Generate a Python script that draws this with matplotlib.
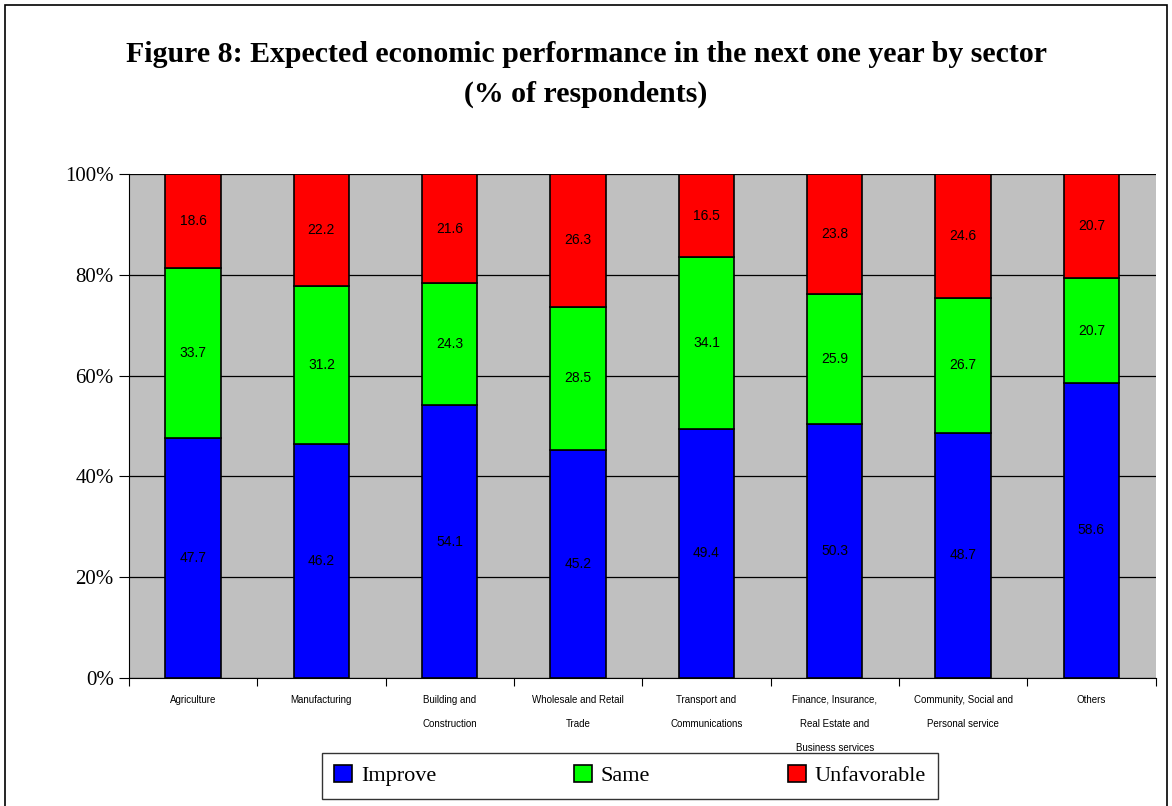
import matplotlib.pyplot as plt
import numpy as np
from matplotlib.patches import Rectangle

sectors = ["Agriculture", "Manufacturing", "Building and\nConstruction",
           "Wholesale and Retail\nTrade", "Transport and\nCommunications",
           "Finance, Insurance,\nReal Estate and\nBusiness services",
           "Community, Social and\nPersonal service", "Others"]
improve = [47.7, 46.2, 54.1, 45.2, 49.4, 50.3, 48.7, 58.6]
same = [33.7, 31.2, 24.3, 28.5, 34.1, 25.9, 26.7, 20.7]
unfavorable = [18.6, 22.2, 21.6, 26.3, 16.5, 23.8, 24.6, 20.7]

series = [("Improve", improve, "#0000FF"),
          ("Same", same, "#00FF00"),
          ("Unfavorable", unfavorable, "#FF0000")]

fig = plt.figure(figsize=(11.72, 8.06), dpi=100)
fig.patches.append(Rectangle((0.004, -0.01), 0.992, 1.004, transform=fig.transFigure,
                             fill=False, edgecolor="black", linewidth=1.2))

ax = fig.add_axes([0.110, 0.159, 0.876, 0.625])
ax.set_facecolor("#C0C0C0")

# 100% stacked: each column scaled to its own total
x = np.arange(len(sectors))
totals = np.array(improve) + np.array(same) + np.array(unfavorable)
bottom = np.zeros(len(sectors))
for name, vals, color in series:
    vals = np.array(vals)
    share = vals / totals * 100
    ax.bar(x, share, 0.43, bottom=bottom, color=color, edgecolor="black",
           linewidth=1.2, label=name, zorder=3)
    for xi, b, s, v in zip(x, bottom, share, vals):
        ax.text(xi, b + s / 2, f"{v:.1f}", ha="center", va="center",
                fontsize=10, family="Liberation Sans", zorder=4)
    bottom += share

ax.set_xlim(-0.5, len(sectors) - 0.5)
ax.set_ylim(0, 100)
ax.set_yticks(np.arange(0, 101, 20))
ax.set_yticklabels([f"{v}%" for v in range(0, 101, 20)],
                   family="Liberation Serif", fontsize=15)
ax.yaxis.grid(True, color="black", linewidth=0.9, zorder=1)

# category labels sit between boundary ticks
ax.set_xticks(np.arange(len(sectors) + 1) - 0.5)
ax.set_xticklabels([])
ax.set_xticks(x, minor=True)
ax.set_xticklabels(sectors, minor=True, fontsize=7, family="Liberation Sans",
                   linespacing=2.8, va="top")
ax.tick_params(axis="x", which="minor", length=0, pad=12)
ax.tick_params(axis="x", which="major", length=6, direction="out")
ax.tick_params(axis="y", length=7, direction="out", pad=4)

for side in ["top", "right"]:
    ax.spines[side].set_visible(False)
ax.spines["left"].set_color("black")
ax.spines["bottom"].set_color("black")

fig.text(0.5, 0.907, "Figure 8: Expected economic performance in the next one year by sector\n(% of respondents)",
         ha="center", va="center", fontsize=21.5, fontweight="bold",
         family="Liberation Serif", linespacing=1.6)

leg = fig.legend(loc="center", bbox_to_anchor=(0.5375, 0.0375), ncol=3,
                 prop={"family": "Liberation Serif", "size": 16},
                 frameon=True, fancybox=False, edgecolor="black",
                 handlelength=0.8, handleheight=0.8, columnspacing=6.2,
                 borderpad=0.55, handletextpad=0.4)
leg.get_frame().set_linewidth(1.0)

fig.savefig("out.png", dpi=100)
